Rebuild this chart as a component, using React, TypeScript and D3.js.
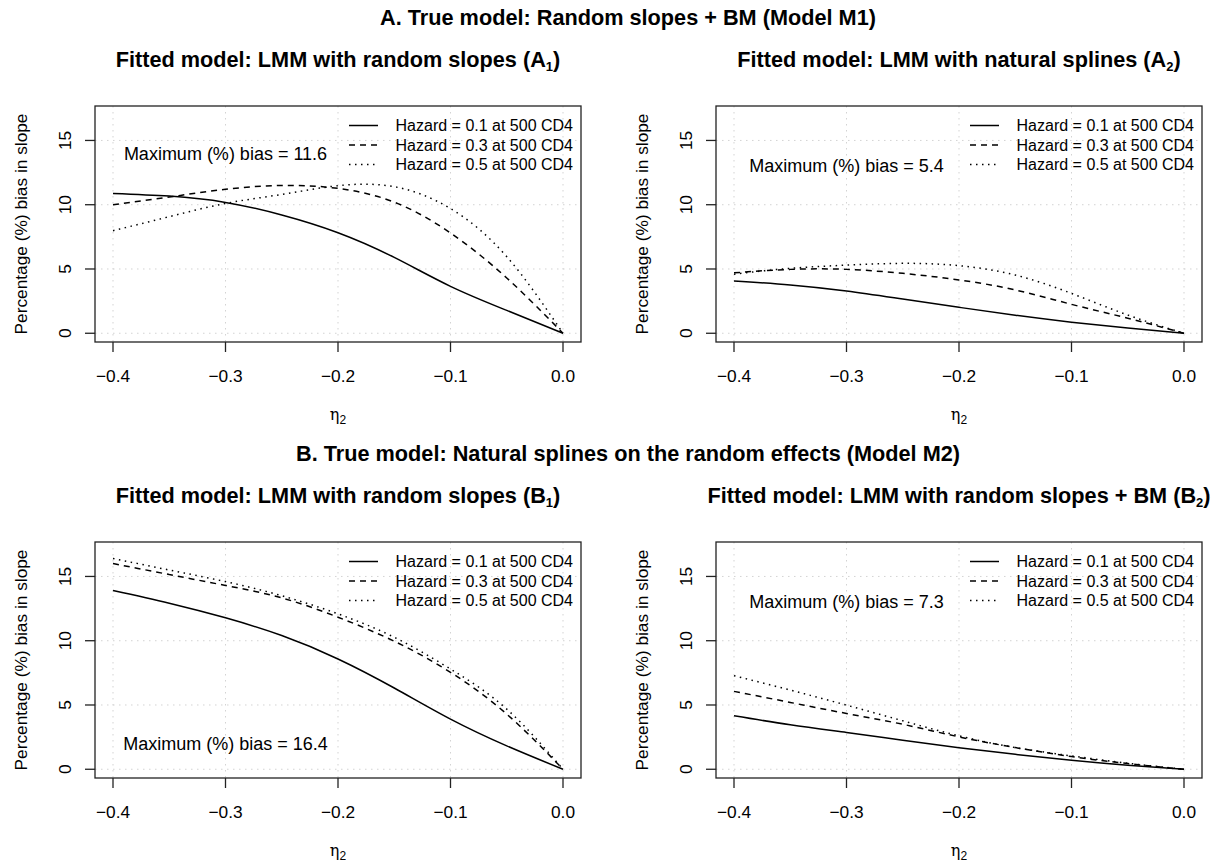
import React, { useEffect, useRef } from "react";
import * as d3 from "d3";

// eta_2 grid used for reading the curves
const etaValues = [-0.4, -0.35, -0.3, -0.25, -0.2, -0.15, -0.1, -0.05, 0];

// A1: true random slopes + BM, fitted random slopes
const a1Haz01 = [10.88, 10.67, 10.18, 9.2, 7.82, 5.9, 3.65, 1.78, 0];
const a1Haz03 = [10.0, 10.6, 11.2, 11.5, 11.27, 10.2, 7.8, 4.3, 0];
const a1Haz05 = [7.98, 9.07, 10.1, 10.8, 11.48, 11.4, 9.7, 5.96, 0];

// A2: fitted natural splines
const a2Haz01 = [4.07, 3.76, 3.29, 2.66, 2.02, 1.4, 0.86, 0.4, 0];
const a2Haz03 = [4.7, 4.97, 4.97, 4.66, 4.15, 3.37, 2.25, 1.17, 0];
const a2Haz05 = [4.6, 5.05, 5.3, 5.44, 5.26, 4.53, 3.1, 1.42, 0];

// B1: true natural splines, fitted random slopes
const b1Haz01 = [13.9, 12.92, 11.78, 10.4, 8.58, 6.32, 3.9, 1.82, 0];
const b1Haz03 = [16.0, 15.15, 14.3, 13.33, 11.83, 9.96, 7.54, 4.29, 0];
const b1Haz05 = [16.4, 15.5, 14.6, 13.5, 12.09, 10.27, 7.8, 4.68, 0];

// B2: fitted random slopes + BM
const b2Haz01 = [4.16, 3.46, 2.86, 2.26, 1.68, 1.16, 0.7, 0.31, 0];
const b2Haz03 = [6.06, 5.2, 4.34, 3.5, 2.52, 1.69, 0.99, 0.44, 0];
const b2Haz05 = [7.28, 6.16, 4.99, 3.77, 2.6, 1.69, 1.04, 0.47, 0];

const legendLabels = [
  "Hazard = 0.1 at 500 CD4",
  "Hazard = 0.3 at 500 CD4",
  "Hazard = 0.5 at 500 CD4",
];
const xTicks = [-0.4, -0.3, -0.2, -0.1, 0];
const xTickLabels = ["\u22120.4", "\u22120.3", "\u22120.2", "\u22120.1", "0.0"];
const yTicks = [0, 5, 10, 15];

const mainTitles = [
  "A. True model: Random slopes + BM (Model M1)",
  "B. True model: Natural splines on the random effects (Model M2)",
];
const panelTitles = [
  ["Fitted model: LMM with random slopes (A", "1"],
  ["Fitted model: LMM with natural splines (A", "2"],
  ["Fitted model: LMM with random slopes (B", "1"],
  ["Fitted model: LMM with random slopes + BM (B", "2"],
];
const maxBiasLabels = [
  "Maximum (%) bias = 11.6",
  "Maximum (%) bias = 5.4",
  "Maximum (%) bias = 16.4",
  "Maximum (%) bias = 7.3",
];
const maxBiasY = [14, 13, 2, 13];

const FONT = "'Liberation Sans', Arial, Helvetica, sans-serif";

const App = () => {
  const ref = useRef(null);

  useEffect(() => {
    const width = 1229;
    const height = 864;
    const svg = d3.select(ref.current);
    svg.selectAll("*").remove();
    svg.attr("width", width).attr("height", height);

    const series = [
      [a1Haz01, a1Haz03, a1Haz05],
      [a2Haz01, a2Haz03, a2Haz05],
      [b1Haz01, b1Haz03, b1Haz05],
      [b2Haz01, b2Haz03, b2Haz05],
    ];
    const dashes = [null, "6,5", "1.5,4.5"];

    // plot regions
    const cols = [
      [95, 581],
      [716, 1202],
    ];
    const rows = [
      [106, 342],
      [542, 778],
    ];

    // outer titles
    mainTitles.forEach((t, i) => {
      svg
        .append("text")
        .attr("x", 628)
        .attr("y", [25, 461][i])
        .attr("text-anchor", "middle")
        .attr("font-family", FONT)
        .attr("font-weight", "bold")
        .attr("font-size", 21.7)
        .text(t);
    });

    series.forEach((lines, p) => {
      const [x0, x1] = cols[p % 2];
      const [y0, y1] = rows[Math.floor(p / 2)];
      const x = d3.scaleLinear().domain([-0.416, 0.016]).range([x0, x1]);
      const y = d3.scaleLinear().domain([-0.68, 17.68]).range([y1, y0]);
      const g = svg.append("g");
      const cx = (x0 + x1) / 2;

      // title
      const title = g
        .append("text")
        .attr("x", cx)
        .attr("y", y0 - 39.5)
        .attr("text-anchor", "middle")
        .attr("font-family", FONT)
        .attr("font-weight", "bold")
        .attr("font-size", 21.7);
      title.append("tspan").text(panelTitles[p][0]);
      title.append("tspan").attr("font-size", 13).attr("dy", 4).text(panelTitles[p][1]);
      title.append("tspan").attr("dy", -4).text(")");

      // grid
      g.selectAll(".gx")
        .data(xTicks)
        .join("line")
        .attr("x1", (d) => x(d))
        .attr("x2", (d) => x(d))
        .attr("y1", y0)
        .attr("y2", y1)
        .attr("stroke", "#d3d3d3")
        .attr("stroke-dasharray", "1.5,4.5");
      g.selectAll(".gy")
        .data(yTicks)
        .join("line")
        .attr("x1", x0)
        .attr("x2", x1)
        .attr("y1", (d) => y(d))
        .attr("y2", (d) => y(d))
        .attr("stroke", "#d3d3d3")
        .attr("stroke-dasharray", "1.5,4.5");

      // curves
      const line = d3
        .line()
        .x((d) => x(d[0]))
        .y((d) => y(d[1]))
        .curve(d3.curveNatural);
      lines.forEach((vals, k) => {
        g.append("path")
          .datum(etaValues.map((e, i) => [e, vals[i]]))
          .attr("d", line)
          .attr("fill", "none")
          .attr("stroke", "#000")
          .attr("stroke-width", 1.5)
          .attr("stroke-dasharray", dashes[k]);
      });

      // box
      g.append("rect")
        .attr("x", x0)
        .attr("y", y0)
        .attr("width", x1 - x0)
        .attr("height", y1 - y0)
        .attr("fill", "none")
        .attr("stroke", "#222")
        .attr("stroke-width", 1.3);

      // x axis
      g.selectAll(".tx")
        .data(xTicks)
        .join("line")
        .attr("x1", (d) => x(d))
        .attr("x2", (d) => x(d))
        .attr("y1", y1)
        .attr("y2", y1 + 10)
        .attr("stroke", "#222")
        .attr("stroke-width", 1.3);
      g.selectAll(".lx")
        .data(xTicks)
        .join("text")
        .attr("x", (d) => x(d))
        .attr("y", y1 + 40)
        .attr("text-anchor", "middle")
        .attr("font-family", FONT)
        .attr("font-size", 17.3)
        .text((d, i) => xTickLabels[i]);
      const eta = g
        .append("text")
        .attr("x", cx)
        .attr("y", y1 + 78)
        .attr("text-anchor", "middle")
        .attr("font-family", "'DejaVu Serif', serif")
        .attr("font-size", 16);
      eta.append("tspan").text("\u03B7");
      eta.append("tspan").attr("font-family", FONT).attr("font-size", 12).attr("dy", 4).text("2");

      // y axis
      g.selectAll(".ty")
        .data(yTicks)
        .join("line")
        .attr("x1", x0 - 10)
        .attr("x2", x0)
        .attr("y1", (d) => y(d))
        .attr("y2", (d) => y(d))
        .attr("stroke", "#222")
        .attr("stroke-width", 1.3);
      g.selectAll(".ly")
        .data(yTicks)
        .join("text")
        .attr("transform", (d) => `translate(${x0 - 24},${y(d)}) rotate(-90)`)
        .attr("text-anchor", "middle")
        .attr("font-family", FONT)
        .attr("font-size", 17.3)
        .text((d) => d);
      g.append("text")
        .attr("transform", `translate(${x0 - 68},${(y0 + y1) / 2}) rotate(-90)`)
        .attr("text-anchor", "middle")
        .attr("font-family", FONT)
        .attr("font-size", 17.3)
        .text("Percentage (%) bias in slope");

      // annotation
      g.append("text")
        .attr("x", x(-0.3))
        .attr("y", y(maxBiasY[p]))
        .attr("dy", "0.35em")
        .attr("text-anchor", "middle")
        .attr("font-family", FONT)
        .attr("font-size", 18)
        .text(maxBiasLabels[p]);

      // legend
      const lg = g.append("g");
      legendLabels.forEach((lab, k) => {
        const ly = y0 + 19.5 + k * 19.5;
        lg.append("line")
          .attr("x1", x1 - 232)
          .attr("x2", x1 - 203)
          .attr("y1", ly)
          .attr("y2", ly)
          .attr("stroke", "#000")
          .attr("stroke-width", 1.5)
          .attr("stroke-dasharray", dashes[k]);
        lg.append("text")
          .attr("x", x1 - 8)
          .attr("y", ly)
          .attr("dy", "0.35em")
          .attr("text-anchor", "end")
          .attr("font-family", FONT)
          .attr("font-size", 16)
          .text(lab);
      });
    });
  }, []);

  return <svg ref={ref} style={{ display: "block", position: "absolute", left: 0, top: 0 }}></svg>;
};

export default App;
